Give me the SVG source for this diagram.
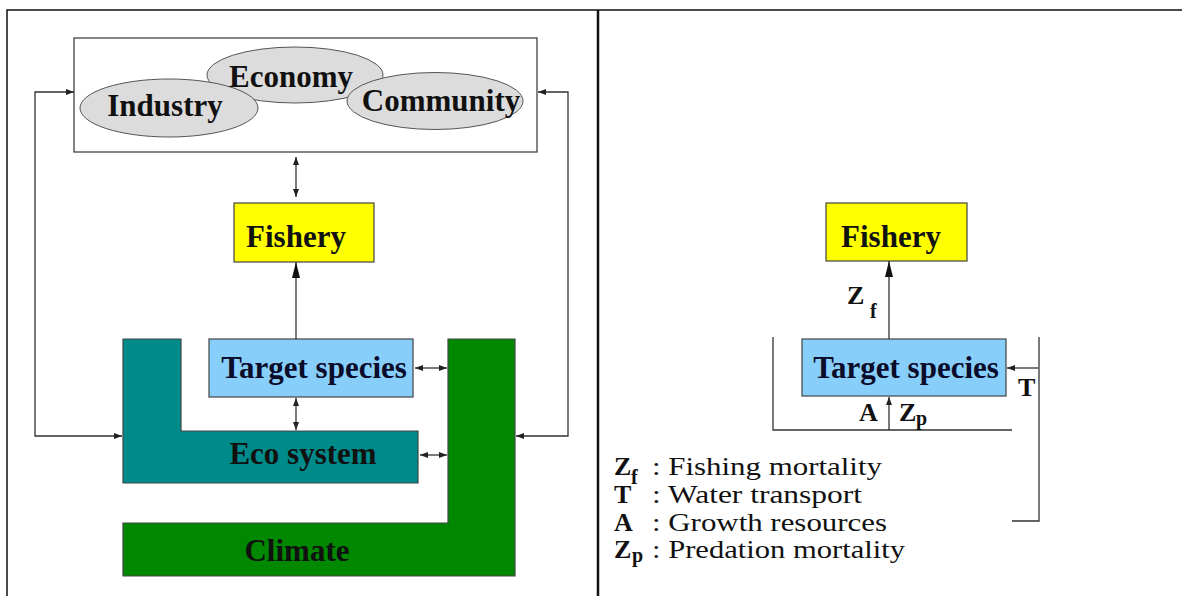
<svg xmlns="http://www.w3.org/2000/svg" width="1182" height="596" viewBox="0 0 1182 596">
<style>
.frame{fill:none;stroke:#111;stroke-width:1.5}
.ln{fill:none;stroke:#333;stroke-width:1.3}
.box{stroke:#444;stroke-width:1.2}
.ell{fill:#dcdcdc;stroke:#555;stroke-width:1}
.lbl{font-family:"Liberation Serif","Times New Roman",serif;font-weight:bold;font-size:31px;fill:#111;text-anchor:middle}
.sym{font-family:"Liberation Serif","Times New Roman",serif;font-weight:bold;font-size:26px;fill:#111}
.sub{font-size:20px}
.leg{font-family:"Liberation Serif","Times New Roman",serif;font-size:26px;fill:#111}
</style>
<defs>
<marker id="sm" viewBox="0 0 8 6" refX="8" refY="3" markerWidth="8" markerHeight="6" markerUnits="userSpaceOnUse" orient="auto-start-reverse"><path d="M0,0 L8,3 L0,6 z" fill="#222"/></marker>
<marker id="big" viewBox="0 0 16 8" refX="16" refY="4" markerWidth="16" markerHeight="8" markerUnits="userSpaceOnUse" orient="auto-start-reverse"><path d="M0,0 L16,4 L0,8 z" fill="#111"/></marker>
</defs>
<rect width="1182" height="596" fill="#fff"/>
<g id="frame">
<path class="frame" d="M7,596 V10 H1182"/>
<line x1="598" y1="10" x2="598" y2="596" stroke="#111" stroke-width="2.5"/>
</g>
<g id="society">
<rect x="74" y="38" width="463" height="114" fill="#fff" stroke="#333" stroke-width="1.2"/>
<ellipse class="ell" cx="295" cy="75" rx="88" ry="28"/>
<ellipse class="ell" cx="169" cy="108" rx="89" ry="29"/>
<ellipse class="ell" cx="435" cy="101" rx="88" ry="28.5"/>
<text class="lbl" x="291" y="87">Economy</text>
<text class="lbl" x="165" y="116">Industry</text>
<text class="lbl" x="441" y="111">Community</text>
</g>
<g id="fishery-left">
<rect class="box" x="234" y="203" width="140" height="59" fill="#ffff00"/>
<text class="lbl" x="296" y="247">Fishery</text>
</g>
<g id="ecosystem">
<path class="box" fill="#008b8b" d="M123,339 H181 V431 H418 V483 H123 Z"/>
<text class="lbl" x="303" y="464">Eco system</text>
</g>
<g id="climate">
<path class="box" fill="#008800" d="M448,339 H515 V576 H123 V523 H448 Z"/>
<text class="lbl" x="297" y="561">Climate</text>
</g>
<g id="target-left">
<rect class="box" x="209" y="339" width="204" height="58" fill="#87cefa"/>
<text class="lbl" x="314" y="378" style="fill:#0b0b2a">Target species</text>
</g>
<g id="fishery-right">
<rect class="box" x="826" y="203" width="141" height="58" fill="#ffff00"/>
<text class="lbl" x="891" y="247">Fishery</text>
</g>
<g id="target-right">
<rect class="box" x="802" y="339" width="204" height="57" fill="#87cefa"/>
<text class="lbl" x="906" y="378" style="fill:#0b0b2a">Target species</text>
</g>
<g id="connectors">
<line class="ln" x1="296" y1="157" x2="296" y2="197" marker-start="url(#sm)" marker-end="url(#sm)"/>
<line class="ln" x1="296" y1="339" x2="296" y2="262" marker-end="url(#big)"/>
<line class="ln" x1="296" y1="398" x2="296" y2="430" marker-start="url(#sm)" marker-end="url(#sm)"/>
<line class="ln" x1="415" y1="368" x2="447" y2="368" marker-start="url(#sm)" marker-end="url(#sm)"/>
<line class="ln" x1="420" y1="455" x2="447" y2="455" marker-start="url(#sm)" marker-end="url(#sm)"/>
<path class="ln" d="M74,92 H35 V436 H122" marker-start="url(#sm)" marker-end="url(#sm)"/>
<path class="ln" d="M538,92 H568 V436 H516" marker-start="url(#sm)" marker-end="url(#sm)"/>
<line class="ln" x1="889" y1="339" x2="889" y2="261" marker-end="url(#big)"/>
<line class="ln" x1="889" y1="430" x2="889" y2="397" marker-end="url(#sm)"/>
<line class="ln" x1="1038" y1="368" x2="1007" y2="368" marker-end="url(#sm)"/>
<path class="ln" d="M773,337 V430 H1012"/>
<path class="ln" d="M1039,337 V521 H1012"/>
</g>
<g id="labels-right">
<text class="sym" x="847" y="304">Z</text>
<text class="sym sub" x="870" y="318">f</text>
<text class="sym" x="1018" y="396">T</text>
<text class="sym" x="859" y="421">A</text>
<text class="sym" x="899" y="421">Z</text>
<text class="sym sub" x="916" y="425">p</text>
</g>
<g id="legend">
<text class="sym" x="614" y="475">Z</text>
<text class="sym sub" x="631" y="484">f</text>
<text class="leg" x="652" y="475" textLength="230" lengthAdjust="spacingAndGlyphs">: Fishing mortality</text>
<text class="sym" x="614" y="503">T</text>
<text class="leg" x="652" y="503" textLength="210" lengthAdjust="spacingAndGlyphs">: Water transport</text>
<text class="sym" x="614" y="531">A</text>
<text class="leg" x="652" y="531" textLength="235" lengthAdjust="spacingAndGlyphs">: Growth resources</text>
<text class="sym" x="614" y="558">Z</text>
<text class="sym sub" x="632" y="562">p</text>
<text class="leg" x="652" y="558" textLength="253" lengthAdjust="spacingAndGlyphs">: Predation mortality</text>
</g>
</svg>
